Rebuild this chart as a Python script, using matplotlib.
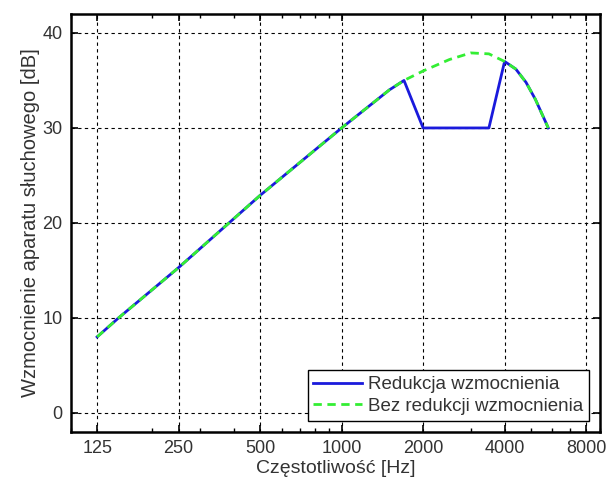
import matplotlib
matplotlib.use("Agg")
import matplotlib.pyplot as plt
from matplotlib.ticker import FixedLocator, FixedFormatter, NullFormatter

plt.rcParams['font.family'] = ['Liberation Sans', 'DejaVu Sans']

# Data
freq_full = [125, 150, 250, 500, 1000, 1500, 1700, 2000, 2500, 3000, 3500, 4000, 4400, 4800, 5200, 5800]
gain_full = [8.0, 10.0, 15.3, 22.9, 30.0, 34.0, 35.0, 36.0, 37.2, 37.9, 37.8, 37.0, 36.2, 34.8, 33.0, 30.0]

freq_red = [125, 150, 250, 500, 1000, 1500, 1700, 2000, 3500, 4000, 4400, 4800, 5200, 5800]
gain_red = [8.0, 10.0, 15.3, 22.9, 30.0, 34.0, 35.0, 30.0, 30.0, 37.0, 36.2, 34.8, 33.0, 30.0]

xticks = [125, 250, 500, 1000, 2000, 4000, 8000]
xticklabels = ['125', '250', '500', '1000', '2000', '4000', '8000']
yticks = [0, 10, 20, 30, 40]

label_red = 'Redukcja wzmocnienia'
label_full = 'Bez redukcji wzmocnienia'
xlabel = 'Częstotliwość [Hz]'
ylabel = 'Wzmocnienie aparatu słuchowego [dB]'

fig = plt.figure(figsize=(6.06, 4.82), dpi=100)
ax = fig.add_axes([0.117, 0.104, 0.873, 0.867])

ax.plot(freq_red, gain_red, color='#1a1adc', linewidth=2.0, label=label_red, zorder=3)
ax.plot(freq_full, gain_full, color='#33ee33', linewidth=2.0, linestyle=(0, (3, 2)),
        label=label_full, zorder=4)

ax.set_xscale('log', base=2)
ax.set_xlim(100, 9000)
ax.set_ylim(-2, 42)
ax.xaxis.set_major_locator(FixedLocator(xticks))
ax.xaxis.set_major_formatter(FixedFormatter(xticklabels))
minor = [m * 10 ** e for e in (2, 3) for m in range(1, 10)]
ax.xaxis.set_minor_locator(FixedLocator([m for m in minor if 100 <= m <= 9000 and m not in xticks]))
ax.xaxis.set_minor_formatter(NullFormatter())
ax.set_yticks(yticks)

ax.grid(True, which='major', color='black', linestyle=(0, (3, 3)), linewidth=0.8)
ax.tick_params(which='both', direction='in', top=True, right=True, labelsize=13,
               pad=6, labelcolor='#333333')
ax.tick_params(which='major', length=5, width=1.2)
ax.tick_params(which='minor', length=3, width=1.0)
for s in ax.spines.values():
    s.set_linewidth(1.8)

ax.set_xlabel(xlabel, fontsize=14, labelpad=2, color='#333333')
ax.set_ylabel(ylabel, fontsize=14.5, labelpad=2, color='#333333')

leg = ax.legend(loc='lower right', fontsize=13.5, frameon=True, fancybox=False,
                edgecolor='black', framealpha=1, borderpad=0.3, handlelength=2.6,
                handletextpad=0.3, labelspacing=0.25, borderaxespad=0.6)
leg.get_frame().set_linewidth(1.0)
for t in leg.get_texts():
    t.set_color('#333333')

fig.savefig('out.png', dpi=100)
